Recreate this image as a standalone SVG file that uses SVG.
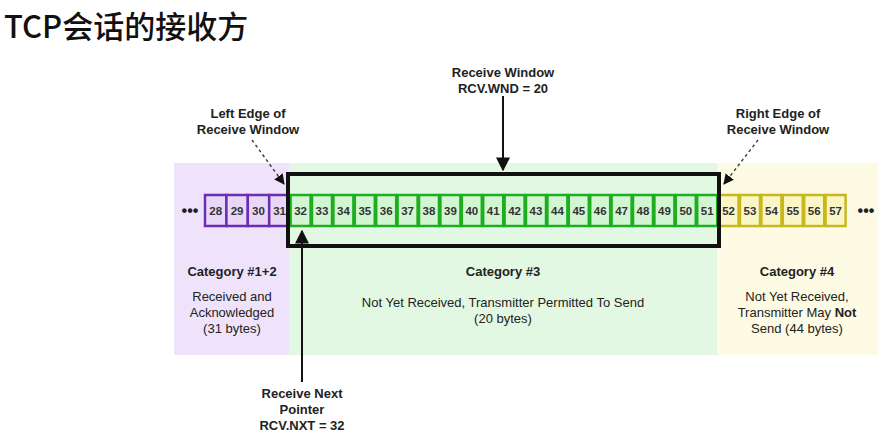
<svg xmlns="http://www.w3.org/2000/svg" width="885" height="444" viewBox="0 0 885 444">
<style>
text{font-family:"Liberation Sans","Noto Sans CJK SC",sans-serif;fill:#222;font-size:13px;text-anchor:middle}
.b{font-weight:bold}
.p{fill:#e8d7f7;stroke:#6a2fb0;stroke-width:2.5}
.g{fill:#d2f5d2;stroke:#1fae1f;stroke-width:2.5}
.y{fill:#fbf6c8;stroke:#c8b81c;stroke-width:2.5}
.c{font-size:11.5px;font-weight:bold;fill:#333}
</style>
<defs>
<marker id="ah" viewBox="0 0 10 10" refX="9" refY="5" markerWidth="7" markerHeight="7" orient="auto"><path d="M0,0L10,5L0,10z" fill="#111"/></marker>
</defs>
<rect width="885" height="444" fill="#fff"/>
<text x="4" y="38" style="font-size:31px;text-anchor:start;fill:#111;font-weight:500;font-family:'Noto Sans CJK SC','Liberation Sans',sans-serif">TCP会话的接收方</text>
<rect x="174" y="163" width="115" height="192" fill="#efe3fb"/>
<rect x="289" y="163" width="428" height="192" fill="#e2f8e2"/>
<rect x="717" y="163" width="161" height="192" fill="#fdfbe3"/>
<g id="cells">
<g id="c28"><rect class="p" x="205" y="195" width="21.4" height="31"/><text class="c" x="215.7" y="215">28</text></g>
<g id="c29"><rect class="p" x="226.4" y="195" width="21.4" height="31"/><text class="c" x="237.1" y="215">29</text></g>
<g id="c30"><rect class="p" x="247.8" y="195" width="21.4" height="31"/><text class="c" x="258.5" y="215">30</text></g>
<g id="c31"><rect class="p" x="269.2" y="195" width="20" height="31"/><text class="c" x="279.6" y="215">31</text></g>
<g id="green"><rect class="g" x="290.6" y="195" width="20" height="31"/><rect class="g" x="312" y="195" width="20" height="31"/><rect class="g" x="333.4" y="195" width="20" height="31"/><rect class="g" x="354.8" y="195" width="20" height="31"/><rect class="g" x="376.2" y="195" width="20" height="31"/><rect class="g" x="397.6" y="195" width="20" height="31"/><rect class="g" x="419" y="195" width="20" height="31"/><rect class="g" x="440.4" y="195" width="20" height="31"/><rect class="g" x="461.8" y="195" width="20" height="31"/><rect class="g" x="483.2" y="195" width="20" height="31"/><rect class="g" x="504.6" y="195" width="20" height="31"/><rect class="g" x="526" y="195" width="20" height="31"/><rect class="g" x="547.4" y="195" width="20" height="31"/><rect class="g" x="568.8" y="195" width="20" height="31"/><rect class="g" x="590.2" y="195" width="20" height="31"/><rect class="g" x="611.6" y="195" width="20" height="31"/><rect class="g" x="633" y="195" width="20" height="31"/><rect class="g" x="654.4" y="195" width="20" height="31"/><rect class="g" x="675.8" y="195" width="20" height="31"/><rect class="g" x="697.2" y="195" width="20" height="31"/>
<text class="c" x="300.6" y="215">32</text><text class="c" x="322" y="215">33</text><text class="c" x="343.4" y="215">34</text><text class="c" x="364.8" y="215">35</text><text class="c" x="386.2" y="215">36</text><text class="c" x="407.6" y="215">37</text><text class="c" x="429" y="215">38</text><text class="c" x="450.4" y="215">39</text><text class="c" x="471.8" y="215">40</text><text class="c" x="493.2" y="215">41</text><text class="c" x="514.6" y="215">42</text><text class="c" x="536" y="215">43</text><text class="c" x="557.4" y="215">44</text><text class="c" x="578.8" y="215">45</text><text class="c" x="600.2" y="215">46</text><text class="c" x="621.6" y="215">47</text><text class="c" x="643" y="215">48</text><text class="c" x="664.4" y="215">49</text><text class="c" x="685.8" y="215">50</text><text class="c" x="707.2" y="215">51</text></g>
<g id="yellow"><rect class="y" x="718.6" y="195" width="20" height="31"/><rect class="y" x="740" y="195" width="20" height="31"/><rect class="y" x="761.4" y="195" width="20" height="31"/><rect class="y" x="782.8" y="195" width="20" height="31"/><rect class="y" x="804.2" y="195" width="20" height="31"/><rect class="y" x="825.6" y="195" width="20" height="31"/>
<text class="c" x="728.6" y="215">52</text><text class="c" x="750" y="215">53</text><text class="c" x="771.4" y="215">54</text><text class="c" x="792.8" y="215">55</text><text class="c" x="814.2" y="215">56</text><text class="c" x="835.6" y="215">57</text></g>
<text class="b" x="190" y="216" style="font-size:16px">•••</text>
<text class="b" x="866" y="216" style="font-size:16px">•••</text>
</g>
<g id="window"><rect x="288" y="174" width="431" height="72" fill="none" stroke="#111" stroke-width="4"/></g>
<g id="connectors">
<line x1="503" y1="96" x2="503" y2="170" stroke="#111" stroke-width="2" marker-end="url(#ah)"/>
<line x1="302" y1="382" x2="302" y2="231" stroke="#111" stroke-width="2" marker-end="url(#ah)"/>
<line x1="252" y1="140" x2="284" y2="184" stroke="#444" stroke-width="1.5" stroke-dasharray="3,3" marker-end="url(#ah)"/>
<line x1="758" y1="140" x2="724" y2="184" stroke="#444" stroke-width="1.5" stroke-dasharray="3,3" marker-end="url(#ah)"/>
</g>
<g id="labels">
<text class="b" x="503" y="77">Receive Window</text><text class="b" x="503" y="93">RCV.WND = 20</text>
<text class="b" x="248" y="118">Left Edge of</text><text class="b" x="248" y="134">Receive Window</text>
<text class="b" x="778" y="118">Right Edge of</text><text class="b" x="778" y="134">Receive Window</text>
<text class="b" x="302" y="398">Receive Next</text><text class="b" x="302" y="414">Pointer</text><text class="b" x="302" y="430">RCV.NXT = 32</text>
</g>
<g id="cat12"><text class="b" x="232" y="276">Category #1+2</text><text x="232" y="301">Received and</text><text x="232" y="317">Acknowledged</text><text x="232" y="333">(31 bytes)</text></g>
<g id="cat3"><text class="b" x="503" y="276">Category #3</text><text x="503" y="307">Not Yet Received, Transmitter Permitted To Send</text><text x="503" y="323">(20 bytes)</text></g>
<g id="cat4"><text class="b" x="797" y="276">Category #4</text><text x="797" y="301">Not Yet Received,</text><text x="797" y="317">Transmitter May <tspan class="b">Not</tspan></text><text x="797" y="333">Send (44 bytes)</text></g>
</svg>
